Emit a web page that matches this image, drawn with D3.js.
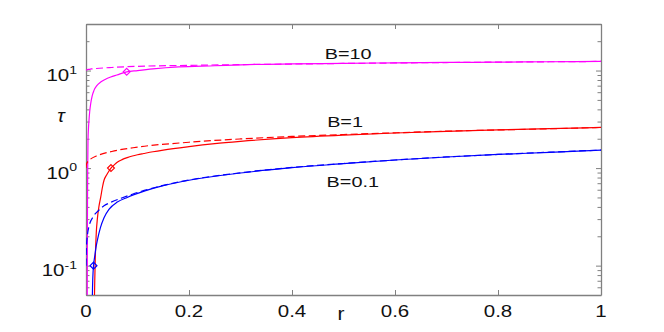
<!DOCTYPE html>
<html><head><meta charset="utf-8">
<script src="https://cdn.jsdelivr.net/npm/d3@7"></script>
<style>
body{margin:0;background:#fff}
svg{display:block}
text{font-family:"Liberation Sans",Arial,Helvetica,sans-serif;fill:#111}
</style></head>
<body><svg id="c" width="664" height="332"></svg>
<script>
// ---- data ----
const xTicks = [0, 0.2, 0.4, 0.6, 0.8, 1];
const xTickLabels = ["0", "0.2", "0.4", "0.6", "0.8", "1"];
const yMajor = [0.1, 1, 10];
const yMajorExp = ["-1", "0", "1"];
const yMinor = [0.05,0.06,0.07,0.08,0.09,0.2,0.3,0.4,0.5,0.6,0.7,0.8,0.9,2,3,4,5,6,7,8,9,20,30];

// B = 10 (magenta)
const r10Solid = [0.0024,0.0026,0.0029,0.0033,0.0039,0.0047,0.0058,0.0072,0.0091,0.012,0.0155,0.021,0.0285,0.037,0.048,0.06,0.079,0.1,0.13,0.18,0.25,0.3,0.4,0.5,0.6,0.7,0.8,0.9,1.0];
const t10Solid = [0.05,0.15,0.45,1.0,1.92,2.5,3.08,3.8,4.57,5.5,6.26,7.0,7.62,8.1,8.58,9.0,9.7,10.0,10.4,10.9,11.2,11.45,11.7,11.85,12.0,12.1,12.2,12.3,12.4];
const r10Dash = [0,0.0005,0.002,0.005,0.01,0.02,0.05,0.1,0.2,0.3,0.4,0.5,0.6,0.7,0.8,0.9,1.0];
const t10Dash = [10.0,10.11,10.2,10.29,10.38,10.5,10.75,11.05,11.3,11.5,11.66,11.82,11.96,12.08,12.2,12.3,12.4];

// B = 1 (red)
const r1Solid = [0.0165,0.017,0.018,0.019,0.02,0.022,0.025,0.0285,0.032,0.035,0.04,0.045,0.0485,0.055,0.06,0.07,0.08,0.09,0.1,0.112,0.13,0.15,0.2,0.25,0.3,0.4,0.5,0.6,0.7,0.8,0.9,1.0];
const t1Solid = [0.05,0.07,0.12,0.17,0.22,0.30,0.40,0.50,0.64,0.75,0.85,0.94,1.0,1.08,1.14,1.22,1.28,1.33,1.37,1.41,1.47,1.53,1.66,1.78,1.88,2.05,2.18,2.29,2.38,2.46,2.54,2.61];
const r1Dash = [0,0.0003,0.001,0.005,0.01,0.02,0.05,0.1,0.2,0.3,0.4,0.5,0.6,0.7,0.8,0.9,1.0];
const t1Dash = [1.0,1.06,1.10,1.19,1.25,1.33,1.48,1.64,1.84,1.99,2.11,2.21,2.30,2.39,2.46,2.53,2.61];

// B = 0.1 (blue)
const r01Solid = [0.0124,0.0127,0.0131,0.0137,0.0146,0.017,0.0195,0.0219,0.028,0.035,0.045,0.0608,0.08,0.113,0.15,0.2,0.3,0.4,0.5,0.6,0.7,0.8,0.9,1.0];
const t01Solid = [0.05,0.06,0.072,0.085,0.1,0.125,0.155,0.18,0.245,0.31,0.38,0.448,0.5,0.58,0.66,0.75,0.89,1.01,1.11,1.21,1.30,1.38,1.45,1.53];
const r01Dash = [0,0.0003,0.001,0.003,0.006,0.0136,0.025,0.035,0.05,0.068,0.09,0.113,0.15,0.2,0.3,0.4,0.5,0.6,0.7,0.8,0.9,1.0];
const t01Dash = [0.1,0.13,0.16,0.21,0.255,0.315,0.37,0.41,0.45,0.49,0.54,0.59,0.665,0.755,0.895,1.015,1.115,1.21,1.30,1.38,1.455,1.53];

// diamond markers (r, tau)
const markerR = [0.079, 0.0485, 0.0146];
const markerT = [9.7, 1.0, 0.1];
const seriesColors = ["#ff00ff", "#ff0000", "#0000ff"];
const seriesLabels = ["B=10", "B=1", "B=0.1"];
const labelR = [0.509, 0.503, 0.518];
const labelT = [13.0, 2.63, 0.638];

// ---- drawing ----
const svg = d3.select("#c");
const L = 86, R = 601, T = 24, B = 295;
const x = d3.scaleLinear().domain([0, 1]).range([L, R]);
const y = d3.scaleLog().domain([0.05, 30]).range([B, T]);
const axisCol = "#808080";
const SX = 1.28; // horizontal text stretch seen in reference

svg.append("defs").append("clipPath").attr("id","clip")
  .append("rect").attr("x", L).attr("y", T).attr("width", R-L).attr("height", B-T);

function styleAxis(g){
  g.selectAll("path.domain").attr("stroke", axisCol).attr("stroke-width", 1.3);
  g.selectAll(".tick line").attr("stroke", axisCol).attr("stroke-width", 1);
  g.selectAll(".tick text").remove();
}
svg.append("g").attr("transform",`translate(0,${B})`)
  .call(d3.axisBottom(x).tickValues(xTicks).tickSizeInner(-5).tickSizeOuter(0).tickFormat(""))
  .call(styleAxis);
svg.append("g").attr("transform",`translate(0,${T})`)
  .call(d3.axisTop(x).tickValues(xTicks).tickSizeInner(-5).tickSizeOuter(0).tickFormat(""))
  .call(styleAxis);
const yAll = yMajor.concat(yMinor);
const gl = svg.append("g").attr("transform",`translate(${L},0)`)
  .call(d3.axisLeft(y).tickValues(yAll).tickSizeInner(-5).tickSizeOuter(0).tickFormat(""))
  .call(styleAxis);
gl.selectAll(".tick line").attr("x2", d => yMajor.includes(d) ? 5 : 3.5);
const gr = svg.append("g").attr("transform",`translate(${R},0)`)
  .call(d3.axisRight(y).tickValues(yAll).tickSizeInner(-5).tickSizeOuter(0).tickFormat(""))
  .call(styleAxis);
gr.selectAll(".tick line").attr("x2", d => yMajor.includes(d) ? -5 : -3.5);

// x tick labels
xTicks.forEach((v,i) => {
  svg.append("text").attr("transform",`translate(${x(v)},317) scale(${SX},1)`)
    .attr("text-anchor","middle").attr("font-size",16).text(xTickLabels[i]);
});
// y tick labels 10^n
yMajor.forEach((v,i) => {
  const t = svg.append("text").attr("transform",`translate(77,${y(v)+10.5}) scale(${SX},1)`)
    .attr("text-anchor","end").attr("font-size",16);
  t.append("tspan").text("10");
  t.append("tspan").attr("font-size",11).attr("dy",-7.5).text(yMajorExp[i]);
});
// axis labels
svg.append("text").attr("transform",`translate(341,320) scale(1.1,1)`)
  .attr("text-anchor","middle").attr("font-size",19).text("r");
svg.append("text").attr("transform",`translate(61,122) scale(1.1,1)`)
  .attr("text-anchor","middle").attr("font-size",18).attr("font-style","italic")
  .attr("font-family","'DejaVu Serif',serif").text("τ");

// curves
const line = d3.line().x(d => x(d[0])).y(d => y(d[1])).curve(d3.curveMonotoneX);
const plot = svg.append("g").attr("clip-path","url(#clip)");
const solids = [[r10Solid,t10Solid],[r1Solid,t1Solid],[r01Solid,t01Solid]];
const dashes = [[r10Dash,t10Dash],[r1Dash,t1Dash],[r01Dash,t01Dash]];
solids.forEach((s,i) => {
  plot.append("path").datum(d3.zip(s[0], s[1]))
    .attr("fill","none").attr("stroke",seriesColors[i]).attr("stroke-width",1.2).attr("d",line);
});
dashes.forEach((s,i) => {
  plot.append("path").datum(d3.zip(s[0], s[1]))
    .attr("fill","none").attr("stroke",seriesColors[i]).attr("stroke-width",1.2)
    .attr("stroke-dasharray","7,3.5").attr("d",line);
});
// diamonds
const diamond = d3.symbol().type(d3.symbolDiamond2).size(30);
markerR.forEach((r,i) => {
  plot.append("path").attr("d", diamond())
    .attr("transform",`translate(${x(r)},${y(markerT[i])})`)
    .attr("fill","none").attr("stroke",seriesColors[i]).attr("stroke-width",1.2);
});
// series labels
seriesLabels.forEach((s,i) => {
  svg.append("text").attr("transform",`translate(${x(labelR[i])},${y(labelT[i])}) scale(${SX},1)`)
    .attr("text-anchor","middle").attr("font-size",15.5).text(s);
});
</script></body></html>
